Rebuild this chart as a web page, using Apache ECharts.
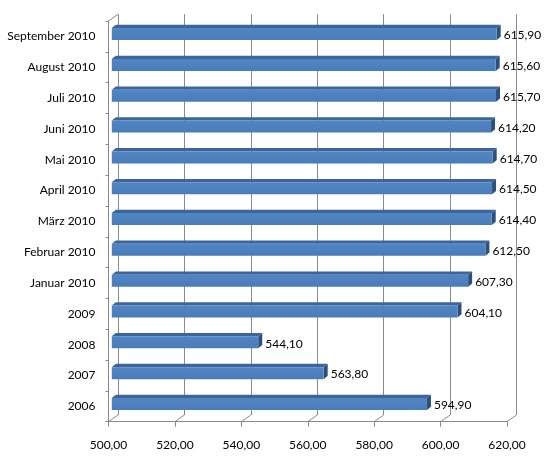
<!DOCTYPE html>
<html>
<head>
<meta charset="utf-8">
<script src="https://cdn.jsdelivr.net/npm/echarts@6/dist/echarts.min.js"></script>
<style>html,body{margin:0;padding:0;background:#fff}#c{width:552px;height:460px}</style>
</head>
<body>
<div id="c"></div>
<script>
var categories = ['2006','2007','2008','2009','Januar 2010','Februar 2010','März 2010','April 2010','Mai 2010','Juni 2010','Juli 2010','August 2010','September 2010'];
var values = [594.90, 563.80, 544.10, 604.10, 607.30, 612.50, 614.40, 614.50, 614.70, 614.20, 615.70, 615.60, 615.90];
var xTicks = [500, 520, 540, 560, 580, 600, 620];

var FONT = 'Lato';
var fmt = function (v) { return Number(v).toFixed(2).replace('.', ','); };
var DX = 9.5, DY = -6.7;       // wall depth
var gridLine = '#8a8a8a';

var chart = echarts.init(document.getElementById('c'), null, {renderer: 'canvas'});
chart.setOption({
  backgroundColor: '#fff',
  animation: false,
  grid: [
    {left: 108.5, right: 45, top: 21, bottom: 38.3},
    {left: 108.5 + DX, right: 45 - DX, top: 21 + DY, bottom: 38.3 - DY}
  ],
  xAxis: [
    {gridIndex: 0, type: 'value', min: 500, max: 620, interval: 20,
     axisLine: {show: true, lineStyle: {color: gridLine}},
     axisTick: {show: true, length: 5, lineStyle: {color: gridLine}},
     axisLabel: {formatter: fmt, fontFamily: FONT, fontSize: 12, color: '#000', margin: 17},
     splitLine: {show: false}},
    {gridIndex: 1, type: 'value', min: 500, max: 620, interval: 20,
     axisLine: {show: false}, axisTick: {show: false}, axisLabel: {show: false},
     splitLine: {show: true, lineStyle: {color: gridLine, width: 1}}}
  ],
  yAxis: [
    {gridIndex: 0, type: 'category', data: categories,
     axisLine: {show: true, lineStyle: {color: gridLine}},
     axisTick: {show: true, length: 3, lineStyle: {color: gridLine}},
     axisLabel: {fontFamily: FONT, fontSize: 12, color: '#000', margin: 13}},
    {gridIndex: 1, type: 'category', data: categories, show: false}
  ],
  series: [
    {
      type: 'custom', xAxisIndex: 0, yAxisIndex: 0, data: xTicks, silent: true, z: 1,
      encode: {x: 0},
      renderItem: function (params, api) {
        var v = api.value(0);
        var cs = params.coordSys;
        var x = api.coord([v, 0])[0];
        var yb = cs.y + cs.height;
        var ch = [{type: 'line', shape: {x1: x, y1: yb, x2: x + DX, y2: yb + DY},
                   style: {stroke: gridLine, lineWidth: 1}}];
        if (v === xTicks[0]) {
          ch.push({type: 'line', shape: {x1: x, y1: cs.y, x2: x + DX, y2: cs.y + DY},
                   style: {stroke: gridLine, lineWidth: 1}});
        }
        return {type: 'group', children: ch};
      }
    },
    {
      type: 'custom', xAxisIndex: 0, yAxisIndex: 0, z: 5,
      data: values.map(function (v, i) { return [v, i]; }),
      encode: {x: 0, y: 1},
      renderItem: function (params, api) {
        var v = api.value(0), c = api.value(1);
        var p0 = api.coord([500, c]);
        var p1 = api.coord([v, c]);
        var sh = 3.3;
        var x0 = p0[0] + sh, x1 = p1[0] + sh;
        var yc = p1[1];
        var top = yc - 8.3, bot = yc + 3.7;
        var d = 4, dy = -3.3;
        return {type: 'group', children: [
          {type: 'polygon', shape: {points: [[x0, top], [x0 + d, top + dy], [x1 + d, top + dy], [x1, top]]},
           style: {fill: '#3c659b'}},
          {type: 'polygon', shape: {points: [[x1, top], [x1 + d, top + dy], [x1 + d, bot + dy], [x1, bot]]},
           style: {fill: '#2d4f7c'}},
          {type: 'rect', shape: {x: x0, y: top, width: x1 - x0, height: bot - top},
           style: {fill: {type: 'linear', x: 0, y: 0, x2: 0, y2: 1, colorStops: [
             {offset: 0, color: '#5185c3'}, {offset: 1, color: '#4a7cb8'}]}}},
          {type: 'text', x: x1 + d + 3, y: yc - 1,
           style: {text: fmt(v), fontFamily: FONT, fontSize: 12, fill: '#000',
                   verticalAlign: 'middle', align: 'left'}}
        ]};
      }
    }
  ]
});
</script>
</body>
</html>
